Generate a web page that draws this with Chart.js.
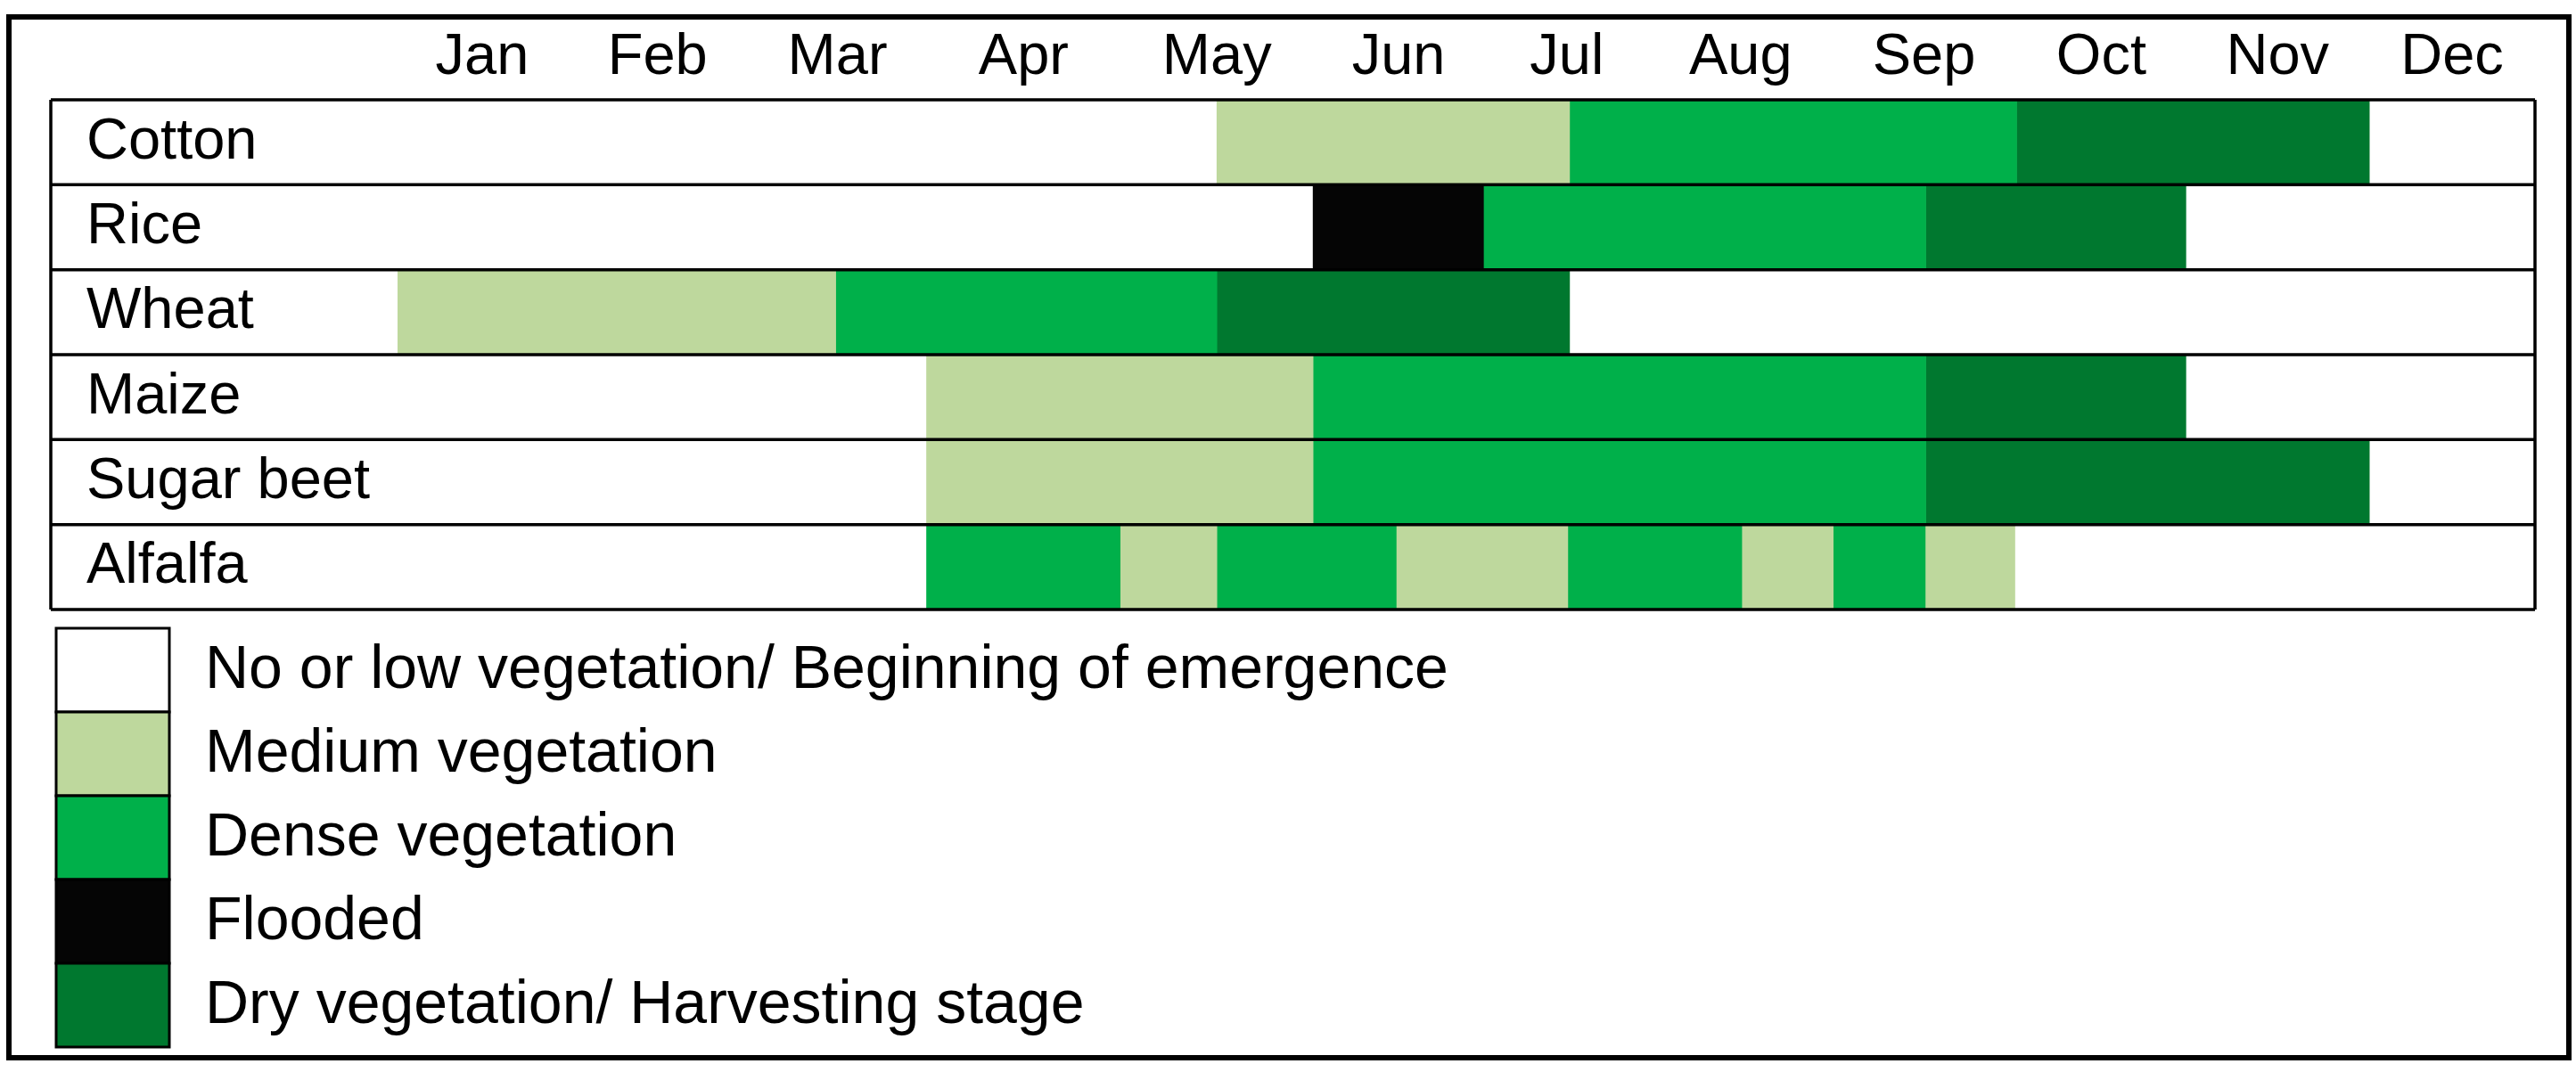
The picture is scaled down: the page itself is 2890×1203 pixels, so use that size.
<!DOCTYPE html>
<html>
<head>
<meta charset="utf-8">
<script src="https://cdn.jsdelivr.net/npm/chart.js@4.4.1/dist/chart.umd.min.js"></script>
<style>
  html, body { margin: 0; padding: 0; background: #fff; }
  canvas { display: block; }
</style>
</head>
<body>
<canvas id="myChart" width="2890" height="1203"></canvas>
<script>
// labels
const months = ['Jan', 'Feb', 'Mar', 'Apr', 'May', 'Jun', 'Jul', 'Aug', 'Sep', 'Oct', 'Nov', 'Dec'];
const crops = ['Cotton', 'Rice', 'Wheat', 'Maize', 'Sugar beet', 'Alfalfa'];

// month column edges as drawn in the calendar (columns are not all the same width)
const monthEdges = [0, 0.95, 1.97, 2.97, 4.06, 5.14, 6.1, 7.03, 8.05, 9.09, 10.04, 11.07, 12];

// growth stages, in legend order
const stageNames = [
    'No or low vegetation/ Beginning of emergence',
    'Medium vegetation',
    'Dense vegetation',
    'Flooded',
    'Dry vegetation/ Harvesting stage'
];
const stageColors = ['#ffffff', '#bed89d', '#00b04a', '#050505', '#00782f'];

// periods per crop: [stage, from, to], in months (0 = start of Jan, 12 = end of Dec)
const cotton = [[1, 4.6, 6.58], [2, 6.58, 9.09], [4, 9.09, 11.07]];
const rice = [[3, 5.14, 6.1], [2, 6.1, 8.58], [4, 8.58, 10.04]];
const wheat = [[1, 0, 2.46], [2, 2.46, 4.6], [4, 4.6, 6.58]];
const maize = [[1, 2.97, 5.14], [2, 5.14, 8.58], [4, 8.58, 10.04]];
const sugarBeet = [[1, 2.97, 5.14], [2, 5.14, 8.58], [4, 8.58, 11.07]];
const alfalfa = [[2, 2.97, 4.06], [1, 4.06, 4.6], [2, 4.6, 5.61], [1, 5.61, 6.57],
                 [2, 6.57, 7.55], [1, 7.55, 8.06], [2, 8.06, 8.58], [1, 8.58, 9.08]];
const periods = [cotton, rice, wheat, maize, sugarBeet, alfalfa];

const fontFamily = '"Liberation Sans", Arial, sans-serif';
const fontSize = 65;
const legendFontSize = 68;

// one floating-bar dataset per stage
const datasets = stageNames.map((name, s) => ({
    label: name,
    backgroundColor: stageColors[s],
    data: []
}));
periods.forEach((list, c) => {
    list.forEach(([s, from, to]) => {
        datasets[s].data.push({ x: [from, to], y: crops[c] });
    });
});

// table rules, outer frame and the stacked legend
const frame = {
    id: 'frame',
    afterDatasetsDraw(chart) {
        const { ctx, chartArea, scales: { y } } = chart;
        const tableLeft = y.left - 40;
        ctx.save();
        ctx.strokeStyle = '#000';
        ctx.lineWidth = 3.5;
        ctx.beginPath();
        for (let i = 0; i <= crops.length; i++) {
            const py = y.getPixelForValue(i - 0.5);
            ctx.moveTo(tableLeft, py);
            ctx.lineTo(chartArea.right, py);
        }
        ctx.moveTo(tableLeft, chartArea.top);
        ctx.lineTo(tableLeft, chartArea.bottom);
        ctx.moveTo(chartArea.right, chartArea.top);
        ctx.lineTo(chartArea.right, chartArea.bottom);
        ctx.stroke();
        ctx.restore();
    },
    afterDraw(chart) {
        const { ctx, chartArea, scales: { y } } = chart;
        ctx.save();
        // outer frame
        ctx.strokeStyle = '#000';
        ctx.lineWidth = 6;
        ctx.strokeRect(10, 19, chart.width - 18, chart.height - 35);

        // legend
        const boxLeft = y.left - 34;
        const boxW = 127;
        const boxH = 94;
        const top = chartArea.bottom + 21;
        ctx.font = legendFontSize + 'px ' + fontFamily;
        ctx.textBaseline = 'middle';
        ctx.textAlign = 'left';
        chart.data.datasets.forEach((ds, i) => {
            const by = top + i * boxH;
            ctx.fillStyle = ds.backgroundColor;
            ctx.fillRect(boxLeft, by, boxW, boxH);
            ctx.lineWidth = 3;
            ctx.strokeRect(boxLeft, by, boxW, boxH);
            ctx.fillStyle = '#000';
            ctx.fillText(ds.label, boxLeft + 167, by + boxH / 2 + 1);
        });
        ctx.restore();
    }
};

new Chart(document.getElementById('myChart').getContext('2d'), {
    type: 'bar',
    data: {
        labels: crops,
        datasets: datasets
    },
    options: {
        indexAxis: 'y',
        responsive: false,
        devicePixelRatio: 1,
        animation: false,
        layout: { padding: { top: 19, left: 97, right: 46, bottom: 519 } },
        datasets: {
            bar: { grouped: false, barPercentage: 1, categoryPercentage: 1, borderWidth: 0 }
        },
        plugins: {
            legend: { display: false },
            tooltip: { enabled: false }
        },
        scales: {
            x: {
                type: 'linear',
                position: 'top',
                min: 0,
                max: 12,
                grid: { display: false },
                border: { display: false },
                // month names sit in the middle of their column
                afterBuildTicks: (scale) => {
                    scale.ticks = months.map((m, i) => ({ value: (monthEdges[i] + monthEdges[i + 1]) / 2 }));
                },
                afterFit: (scale) => { scale.height = 93; },
                ticks: {
                    autoSkip: false,
                    maxRotation: 0,
                    padding: 0,
                    color: '#000',
                    font: { family: fontFamily, size: fontSize },
                    callback: (value, i) => months[i]
                }
            },
            y: {
                type: 'category',
                offset: true,
                grid: { display: false },
                border: { display: false },
                afterFit: (scale) => { scale.width = 349; },
                ticks: {
                    autoSkip: false,
                    crossAlign: 'far',
                    color: '#000',
                    font: { family: fontFamily, size: fontSize }
                }
            }
        }
    },
    plugins: [frame]
});
</script>
</body>
</html>
